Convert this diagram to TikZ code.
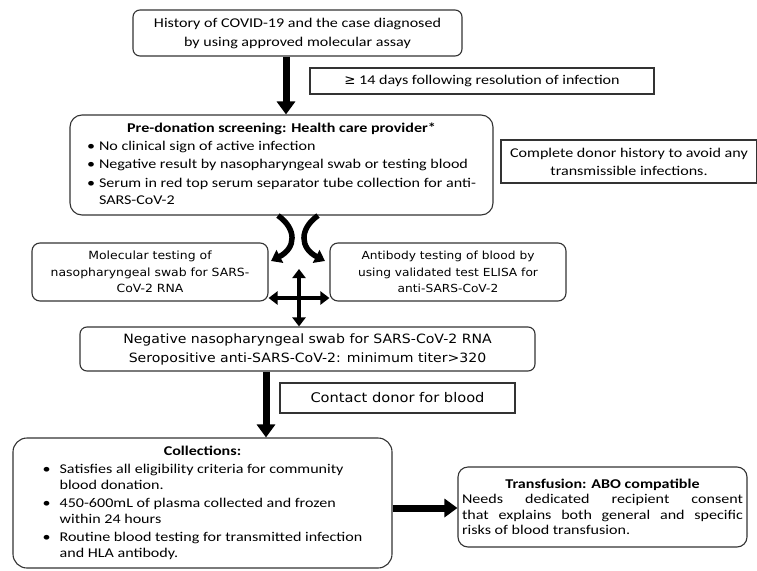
\documentclass[tikz,border=0pt]{standalone}
\usepackage{fontspec}
\setmainfont{Carlito}[FakeStretch=1.2]
\newfontfamily\verd{DejaVu Sans}[FakeStretch=1.1]
\newfontfamily\symf{DejaVu Sans}
\usetikzlibrary{arrows.meta}
\begin{document}
\begin{tikzpicture}[x=1pt,y=-1pt,
  box/.style={draw=black!80, line width=1.1pt, inner sep=0pt, align=center, text=black},
  rbox/.style={box, rounded corners=#1}, rbox/.default=8pt,
  cal/.style={font=\fontsize{13.4}{#1}\selectfont}, cal/.default=18pt,
  ver/.style={font=\verd\fontsize{#1}{16.5}\selectfont},
  fat/.style={line width=7pt, -{Triangle[length=13pt,width=18pt]}},
  curvy/.style={line width=5.5pt, -{Triangle[length=10pt,width=14pt]}},
  dbl/.style={line width=3.2pt, {Triangle[length=9pt,width=13pt]}-{Triangle[length=9pt,width=13pt]}}
]
\fill[white] (0,0) rectangle (757,570);
\useasboundingbox (0,0) rectangle (757,570);

% boxes
\node[rbox=7pt, minimum width=329pt, minimum height=46pt, cal=19pt] (hist) at (297.5,33)
  {History of COVID-19 and the case diagnosed\\by using approved molecular assay};
\node[box, minimum width=344pt, minimum height=26pt, cal] (days) at (482,81)
  {{\symf ≥} 14 days following resolution of infection};
\node[rbox=12pt, minimum width=423pt, minimum height=100pt, cal=17pt] (screen) at (281.5,165)
  {\begin{tabular}{@{}l@{\hspace{4pt}}l@{}}
   \multicolumn{2}{c}{\bfseries Pre-donation screening: Health care provider*}\\[1pt]
   \textbullet & No clinical sign of active infection\\[1.5pt]
   \textbullet & Negative result by nasopharyngeal swab or testing blood\\[1.5pt]
   \textbullet & Serum in red top serum separator tube collection for anti-\\
   & SARS-CoV-2
   \end{tabular}};
\node[box, minimum width=256pt, minimum height=43pt, cal] (donor) at (629,161.5)
  {Complete donor history to avoid any\\transmissible infections.};
\node[rbox=8pt, minimum width=236pt, minimum height=58pt, ver=11.3] (mol) at (150,272)
  {Molecular testing of\\nasopharyngeal swab for SARS-\\CoV-2 RNA};
\node[rbox=8pt, minimum width=236pt, minimum height=58pt, ver=11.1] (anti) at (448,272)
  {Antibody testing of blood by\\using validated test ELISA for\\anti-SARS-CoV-2};
\node[rbox=7pt, minimum width=455pt, minimum height=44pt, font=\verd\fontsize{12.8}{19}\selectfont] (neg) at (307.5,349)
  {Negative nasopharyngeal swab for SARS-CoV-2 RNA\\Seropositive anti-SARS-CoV-2: minimum titer>320};
\node[box, minimum width=235pt, minimum height=30pt, ver=13.3] (contact) at (397.5,398)
  {Contact donor for blood};
\node[rbox=14pt, minimum width=379pt, minimum height=130pt, cal=16pt] (coll) at (202.5,503)
  {\begin{tabular}{@{}p{17pt}@{}l@{}}
   \multicolumn{2}{c}{\bfseries Collections:}\\[2pt]
   \textbullet & Satisfies all eligibility criteria for community\\
   & blood donation.\\[2pt]
   \textbullet & 450-600mL of plasma collected and frozen\\
   & within 24 hours\\[2pt]
   \textbullet & Routine blood testing for transmitted infection\\
   & and HLA antibody.
   \end{tabular}};
\node[rbox=10pt, minimum width=289pt, minimum height=80pt, cal=15.5pt] (trans) at (602.5,507)
  {\begin{minipage}{281pt}\centerline{\bfseries Transfusion: ABO compatible}%
   Needs dedicated recipient consent\linebreak that explains both general and specific\linebreak risks of blood transfusion.\end{minipage}};

% connectors
\coordinate (c1) at (286,0);
\coordinate (c3) at (266,0);
\coordinate (c4) at (0,508);
\coordinate (hy) at (0,298);
\coordinate (vtop) at (299,269);
\coordinate (lt) at (278,0);
\coordinate (rt) at (318,0);
\coordinate (lend) at (271,261);
\coordinate (rend) at (325,261);

\draw[fat] (hist.south -| c1) -- (screen.north -| c1);
\draw[curvy] (screen.south -| lt) .. controls (297,229) and (296,248) .. (lend);
\draw[curvy] (screen.south -| rt) .. controls (299,229) and (300,248) .. (rend);
\draw[dbl] (vtop) -- (vtop |- neg.north);
\draw[dbl] (mol.east |- hy) -- (anti.west |- hy);
\draw[fat] (neg.south -| c3) -- (coll.north -| c3);
\draw[fat] (coll.east |- c4) -- (trans.west |- c4);
\end{tikzpicture}
\end{document}
